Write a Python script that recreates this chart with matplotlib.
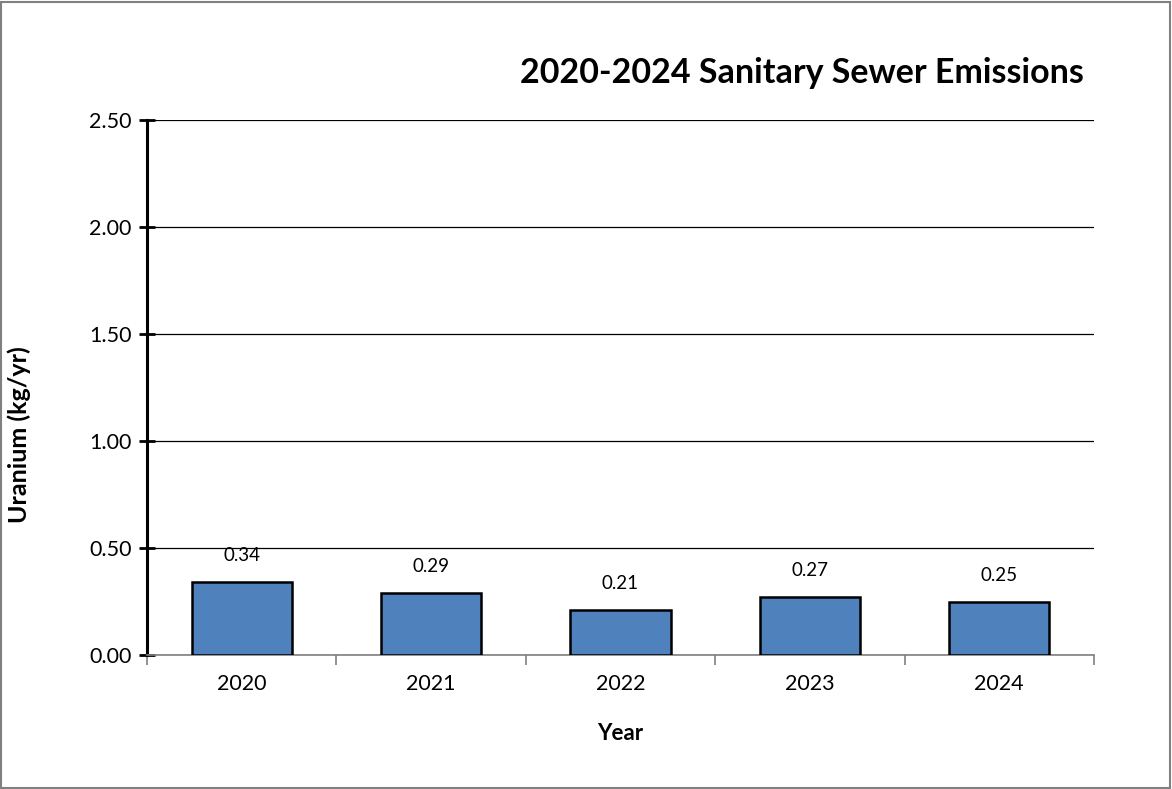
import matplotlib.pyplot as plt
from matplotlib.patches import Rectangle
import numpy as np

plt.rcParams['font.family'] = ['Lato', 'DejaVu Sans']

years = ['2020', '2021', '2022', '2023', '2024']
uranium = [0.34, 0.29, 0.21, 0.27, 0.25]
yticks = [0.0, 0.5, 1.0, 1.5, 2.0, 2.5]

fig = plt.figure(figsize=(11.72, 7.89), dpi=100)
ax = fig.add_axes([147 / 1172, 1 - 655 / 789, 947 / 1172, 535 / 789])

x = np.arange(len(years))
bars = ax.bar(x, uranium, width=0.53, color='#4F81BD', edgecolor='black',
              linewidth=1.8, zorder=3)

# value labels above each bar
for b, v in zip(bars, uranium):
    ax.annotate(f'{v:.2f}', (b.get_x() + b.get_width() / 2, v),
                xytext=(0, 19), textcoords='offset points',
                ha='center', va='center', fontsize=13.5)

ax.set_xlim(-0.5, len(years) - 0.5)
ax.set_ylim(0, 2.5)
ax.set_yticks(yticks)
ax.set_yticklabels([f'{t:.2f}' for t in yticks], fontsize=15.5)
ax.yaxis.grid(True, color='black', linewidth=0.9)
ax.set_axisbelow(True)

# category labels in the middle, tick marks on the boundaries
ax.set_xticks(x)
ax.set_xticklabels(years, fontsize=15.5)
ax.tick_params(axis='x', which='major', length=0, pad=14)
ax.set_xticks(np.arange(-0.5, len(years)), minor=True)
ax.tick_params(axis='x', which='minor', length=7, color='#808080', width=1.2)
ax.tick_params(axis='y', direction='inout', length=12, width=2, pad=5)

for s in ['top', 'right']:
    ax.spines[s].set_visible(False)
ax.spines['left'].set_linewidth(2.2)
ax.spines['bottom'].set_color('#808080')
ax.spines['bottom'].set_linewidth(1.2)

ax.set_xlabel('Year', fontsize=16, fontweight='bold')
ax.xaxis.set_label_coords(0.5, -0.128)
ax.set_ylabel('Uranium (kg/yr)', fontsize=18, fontweight='bold')
ax.yaxis.set_label_coords(-0.123, 0.412)

fig.text(0.684, 0.908, '2020-2024 Sanitary Sewer Emissions', ha='center',
         va='center', fontsize=24.5, fontweight='bold')

# outer chart-area border
fig.patches.append(Rectangle((0.001, 0.001), 0.997, 0.997, transform=fig.transFigure,
                             fill=False, edgecolor='#808080', linewidth=1.5))

fig.savefig('out.png', dpi=100)
